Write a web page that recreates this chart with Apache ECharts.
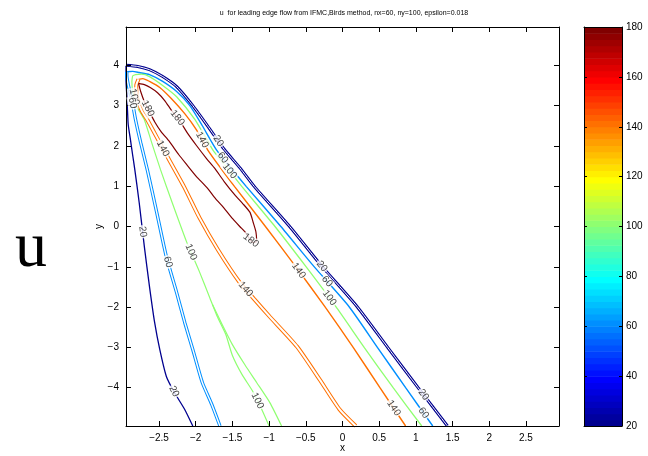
<!DOCTYPE html>
<html>
<head>
<meta charset="utf-8">
<script src="https://cdn.jsdelivr.net/npm/echarts@6/dist/echarts.min.js"></script>
<style>
  html, body { margin: 0; padding: 0; background: #fff; }
  #chart { width: 648px; height: 456px; }
</style>
</head>
<body>
<div id="chart"></div>
<script>
// Axis limits and tick values
const xRange = [-2.95, 2.95];
const yRange = [-4.95, 4.95];
const xTicks = [-2.5, -2, -1.5, -1, -0.5, 0, 0.5, 1, 1.5, 2, 2.5];
const yTicks = [-4, -3, -2, -1, 0, 1, 2, 3, 4];
const colorbarTicks = [20, 40, 60, 80, 100, 120, 140, 160, 180];
const colorRange = [20, 180];
const contourLevels = [20, 60, 100, 140, 180];

// Contour paths of u, as [x, y] points
const u20Left = [[-2.04,-4.95],[-2.15,-4.54],[-2.29,-4.12],[-2.40,-3.72],[-2.49,-3.05],[-2.56,-2.38],[-2.63,-1.49],[-2.70,-0.50],[-2.77,0.59],[-2.83,1.41],[-2.86,1.78],[-2.89,2.16],[-2.92,2.53],[-2.93,2.90],[-2.94,3.27],[-2.95,3.65],[-2.95,3.99]];
const u20Right = [[-2.95,4.00],[-2.79,3.97],[-2.63,3.89],[-2.45,3.72],[-2.26,3.47],[-2.04,3.00],[-1.82,2.45],[-1.61,1.91],[-1.40,1.46],[-1.20,0.99],[-0.72,0.00],[-0.28,-0.99],[0.20,-1.99],[0.62,-3.01],[1.03,-4.00],[1.43,-4.95]];
const u60Left = [[-1.67,-4.95],[-1.78,-4.42],[-1.91,-3.87],[-2.04,-3.05],[-2.15,-2.38],[-2.26,-1.64],[-2.40,-0.75],[-2.53,0.34],[-2.66,1.41],[-2.75,2.08],[-2.82,2.65],[-2.87,3.15],[-2.92,3.52],[-2.94,3.77],[-2.94,3.84]];
const u60Right = [[-2.94,3.84],[-2.86,3.85],[-2.77,3.82],[-2.63,3.77],[-2.45,3.60],[-2.26,3.35],[-2.08,3.00],[-1.91,2.50],[-1.72,1.91],[-1.52,1.45],[-1.31,0.99],[-0.84,0.00],[-0.39,-0.99],[0.09,-1.99],[0.48,-3.01],[0.86,-4.00],[1.23,-4.95]];
const u100Left = [[-1.00,-4.95],[-1.10,-4.54],[-1.22,-4.10],[-1.37,-3.67],[-1.50,-3.20],[-1.59,-2.68],[-1.70,-2.26],[-1.81,-1.76],[-1.95,-1.12],[-2.12,-0.40],[-2.32,0.59],[-2.48,1.41],[-2.60,2.08],[-2.70,2.65],[-2.78,2.90],[-2.83,3.15],[-2.86,3.37],[-2.87,3.60],[-2.86,3.74]];
const u100LeftB = [[-1.77,-1.94],[-1.64,-2.43],[-1.50,-2.93],[-1.33,-3.43],[-1.17,-3.87],[-0.99,-4.37],[-0.83,-4.95]];
const u100Right = [[-2.86,3.74],[-2.82,3.77],[-2.74,3.78],[-2.63,3.72],[-2.45,3.50],[-2.26,3.22],[-2.01,2.65],[-1.77,1.91],[-1.57,1.45],[-1.37,0.99],[-0.92,0.00],[-0.50,-0.99],[-0.09,-1.99],[0.30,-3.01],[0.69,-4.00],[1.08,-4.95]];
const u140Left = [[0.18,-4.95],[-0.04,-4.54],[-0.31,-3.80],[-0.62,-2.98],[-0.99,-2.24],[-1.20,-1.81],[-1.40,-1.39],[-1.70,-0.57],[-1.95,0.22],[-2.16,0.99],[-2.44,1.91],[-2.66,2.65],[-2.73,2.85],[-2.78,3.07],[-2.81,3.27],[-2.81,3.50],[-2.78,3.65]];
const u140Right = [[-2.78,3.65],[-2.72,3.67],[-2.63,3.60],[-2.49,3.45],[-2.33,3.17],[-2.15,2.80],[-1.99,2.40],[-1.84,1.91],[-1.66,1.45],[-1.47,0.99],[-1.05,0.00],[-0.64,-0.99],[-0.24,-1.99],[0.15,-3.01],[0.51,-4.00],[0.86,-4.95]];
const u180Loop = [[-2.78,3.55],[-2.75,3.35],[-2.70,3.10],[-2.63,2.85],[-2.56,2.60],[-2.47,2.35],[-2.36,2.11],[-2.23,1.78],[-2.12,1.53],[-1.99,1.24],[-1.85,0.97],[-1.73,0.69],[-1.62,0.47],[-1.50,0.20],[-1.40,0.00],[-1.32,-0.15],[-1.26,-0.33],[-1.21,-0.40],[-1.17,-0.37],[-1.18,-0.13],[-1.22,0.12],[-1.26,0.35],[-1.36,0.57],[-1.47,0.79],[-1.61,1.11],[-1.74,1.44],[-1.85,1.68],[-1.99,2.01],[-2.11,2.31],[-2.22,2.63],[-2.33,2.88],[-2.42,3.12],[-2.52,3.32],[-2.62,3.45],[-2.70,3.52],[-2.78,3.55]];

// Contour label spots: [x, y, level]
const labelSpots = [[-2.72,-0.13,20],[-2.36,-0.87,60],[-2.08,-0.65,100],[-1.33,-1.57,140],[-0.58,-1.07,140],[-0.27,-0.97,20],[-0.23,-1.39,60],[-0.17,-1.76,100],[-2.33,-4.12,20],[-1.18,-4.34,100],[0.71,-4.49,140],[1.07,-4.22,20],[1.11,-4.62,60],[-2.47,1.91,140],[-1.95,2.11,140],[-1.70,2.11,20],[-1.63,1.71,60],[-1.55,1.36,100],[-2.63,2.95,180],[-2.33,2.58,180],[-1.25,-0.35,180],[-2.87,3.20,100],[-2.90,3.05,60]];

const FONT = '"Liberation Sans", Arial, Helvetica, sans-serif';

// MATLAB-style jet colormap with m entries
function jet(m) {
  const n = Math.ceil(m / 4);
  const u = [];
  for (let i = 1; i <= n; i++) u.push(i / n);
  for (let i = 1; i < n; i++) u.push(1);
  for (let i = n; i >= 1; i--) u.push(i / n);
  const g0 = Math.ceil(n / 2) - (m % 4 === 1 ? 1 : 0);
  const R = new Array(m).fill(0), G = new Array(m).fill(0), B = new Array(m).fill(0);
  u.forEach((v, k) => {
    const g = g0 + k + 1, r = g + n, b = g - n;
    if (g >= 1 && g <= m) G[g - 1] = v;
    if (r >= 1 && r <= m) R[r - 1] = v;
    if (b >= 1 && b <= m) B[b - 1] = v;
  });
  return R.map((r, i) => [r, G[i], B[i]]);
}
const cmap = jet(64);
const rgb = c => 'rgb(' + c.map(v => Math.round(v * 255)).join(',') + ')';
function levelColor(v) {
  let idx = Math.floor((v - colorRange[0]) / (colorRange[1] - colorRange[0]) * cmap.length);
  idx = Math.max(0, Math.min(cmap.length - 1, idx));
  return rgb(cmap[idx]);
}

// Which path belongs to which level, and how it is stroked
const pieces = [
  { level: 20, data: u20Left, width: 1.3 },
  { level: 20, data: u20Right, width: 3, gap: 1 },
  { level: 60, data: u60Left, width: 3.4, gap: 1.4 },
  { level: 60, data: u60Right, width: 1.4 },
  { level: 100, data: u100Left, width: 1.2 },
  { level: 100, data: u100LeftB, width: 1.2 },
  { level: 100, data: u100Right, width: 1.3 },
  { level: 140, data: u140Left, width: 4, gap: 2 },
  { level: 140, data: u140Right, width: 1.4 },
  { level: 180, data: u180Loop, width: 1.2 }
];

const series = [];
pieces.forEach(p => {
  series.push({
    type: 'line', xAxisIndex: 0, yAxisIndex: 0, data: p.data,
    symbol: 'none', smooth: 0.2, silent: true, clip: true, z: 2,
    lineStyle: { color: levelColor(p.level), width: p.width }
  });
  if (p.gap) {
    series.push({
      type: 'line', xAxisIndex: 0, yAxisIndex: 0, data: p.data,
      symbol: 'none', smooth: 0.2, silent: true, clip: true, z: 3,
      lineStyle: { color: '#fff', width: p.gap }
    });
  }
});

series.push({
  id: 'contourLabels', type: 'scatter', xAxisIndex: 0, yAxisIndex: 0,
  data: [], symbolSize: 1, itemStyle: { color: 'rgba(0,0,0,0)' }, silent: true, z: 10,
  label: {
    show: true, position: 'inside', formatter: p => String(p.value[2]),
    fontFamily: FONT, fontSize: 10, color: '#111',
    backgroundColor: '#fff', padding: [0, 1], lineHeight: 10
  }
});

// Colorbar bands drawn through the colorbar value axis
const step = (colorRange[1] - colorRange[0]) / cmap.length;
series.push({
  type: 'custom', xAxisIndex: 2, yAxisIndex: 2, silent: true, z: 1,
  data: cmap.map((c, i) => [i]),
  renderItem: (params, api) => {
    const i = api.value(0);
    const lo = colorRange[0] + i * step, hi = lo + step;
    const p0 = api.coord([0, lo]), p1 = api.coord([1, hi]);
    return {
      type: 'rect',
      shape: { x: p0[0], y: p1[1], width: p1[0] - p0[0], height: p0[1] - p1[1] + 0.6 },
      style: { fill: rgb(cmap[i]) }
    };
  }
});

const fmt = v => (v < 0 ? '\u2212' : '') + Math.abs(v);
const lineBlack = { show: true, onZero: false, lineStyle: { color: '#000', width: 1 } };
const tickStyle = { color: '#000', width: 1 };
const labelStyle = { color: '#000', fontSize: 10, fontFamily: FONT };

const option = {
  animation: false,
  backgroundColor: '#fff',
  title: {
    text: 'u  for leading edge flow from IFMC,Birds method, nx=60, ny=100, epsilon=0.018',
    left: 339, top: 5, textAlign: 'center',
    textStyle: { fontFamily: FONT, fontSize: 7, fontWeight: 'normal', color: '#000' }
  },
  grid: [
    { left: 126, top: 27, right: 89, bottom: 30, containLabel: false, outerBoundsMode: 'none' },
    { left: 584, top: 27, right: 26, bottom: 30, containLabel: false, outerBoundsMode: 'none' }
  ],
  xAxis: [
    { gridIndex: 0, type: 'value', min: xRange[0], max: xRange[1], position: 'bottom', z: 5,
      axisLine: lineBlack, splitLine: { show: false },
      axisTick: { inside: true, length: 5, customValues: xTicks, lineStyle: tickStyle },
      axisLabel: Object.assign({ customValues: xTicks, formatter: fmt, margin: 7 }, labelStyle),
      name: 'x', nameLocation: 'middle', nameGap: 17, nameMoveOverlap: false,
      nameTextStyle: { color: '#000', fontSize: 10, fontFamily: FONT } },
    { gridIndex: 0, type: 'value', min: xRange[0], max: xRange[1], position: 'top', z: 5,
      axisLine: lineBlack, splitLine: { show: false },
      axisTick: { inside: true, length: 5, customValues: xTicks, lineStyle: tickStyle },
      axisLabel: { show: false } },
    { gridIndex: 1, type: 'value', min: 0, max: 1, position: 'bottom', z: 5,
      axisLine: lineBlack, splitLine: { show: false }, axisTick: { show: false }, axisLabel: { show: false } },
    { gridIndex: 1, type: 'value', min: 0, max: 1, position: 'top', z: 5,
      axisLine: lineBlack, splitLine: { show: false }, axisTick: { show: false }, axisLabel: { show: false } }
  ],
  yAxis: [
    { gridIndex: 0, type: 'value', min: yRange[0], max: yRange[1], position: 'left', z: 5,
      axisLine: lineBlack, splitLine: { show: false },
      axisTick: { inside: true, length: 5, customValues: yTicks, lineStyle: tickStyle },
      axisLabel: Object.assign({ customValues: yTicks, formatter: fmt, margin: 7 }, labelStyle),
      name: 'y', nameLocation: 'middle', nameGap: 22, nameMoveOverlap: false,
      nameTextStyle: { color: '#000', fontSize: 10, fontFamily: FONT } },
    { gridIndex: 0, type: 'value', min: yRange[0], max: yRange[1], position: 'right', z: 5,
      axisLine: lineBlack, splitLine: { show: false },
      axisTick: { inside: true, length: 5, customValues: yTicks, lineStyle: tickStyle },
      axisLabel: { show: false } },
    { gridIndex: 1, type: 'value', min: colorRange[0], max: colorRange[1], position: 'right', z: 5,
      axisLine: lineBlack, splitLine: { show: false },
      axisTick: { inside: true, length: 3, customValues: colorbarTicks, lineStyle: tickStyle },
      axisLabel: Object.assign({ customValues: colorbarTicks, margin: 4 }, labelStyle) },
    { gridIndex: 1, type: 'value', min: colorRange[0], max: colorRange[1], position: 'left', z: 5,
      axisLine: lineBlack, splitLine: { show: false },
      axisTick: { inside: true, length: 3, customValues: colorbarTicks, lineStyle: tickStyle },
      axisLabel: { show: false } }
  ],
  graphic: [
    { type: 'text', x: 31, y: 249, z: 10,
      style: { text: 'u', font: '64px "Liberation Serif", "Times New Roman", serif',
               fill: '#000', align: 'center', verticalAlign: 'middle' } }
  ],
  series: series
};

const chart = echarts.init(document.getElementById('chart'), null, { renderer: 'canvas' });
chart.setOption(option);

// Place each contour label on its own contour, turned along the local direction
function placeLabels() {
  const finder = { xAxisIndex: 0, yAxisIndex: 0 };
  const out = [];
  labelSpots.forEach(([x, y, lev]) => {
    const p = chart.convertToPixel(finder, [x, y]);
    let best = null;
    pieces.filter(pc => pc.level === lev).forEach(pc => {
      const pts = pc.data.map(d => chart.convertToPixel(finder, d));
      for (let i = 0; i < pts.length - 1; i++) {
        const a = pts[i], b = pts[i + 1];
        const dx = b[0] - a[0], dy = b[1] - a[1];
        const len2 = dx * dx + dy * dy || 1;
        let t = ((p[0] - a[0]) * dx + (p[1] - a[1]) * dy) / len2;
        t = Math.max(0, Math.min(1, t));
        const q = [a[0] + t * dx, a[1] + t * dy];
        const d = Math.hypot(p[0] - q[0], p[1] - q[1]);
        if (!best || d < best.d) best = { d, q, dx, dy };
      }
    });
    let ang = Math.atan2(-best.dy, best.dx) * 180 / Math.PI;
    if (ang > 90) ang -= 180;
    if (ang <= -90) ang += 180;
    const v = chart.convertFromPixel(finder, best.q);
    out.push({ value: [v[0], v[1], lev], label: { rotate: ang } });
  });
  chart.setOption({ series: [{ id: 'contourLabels', data: out }] });
}
placeLabels();
</script>
</body>
</html>
